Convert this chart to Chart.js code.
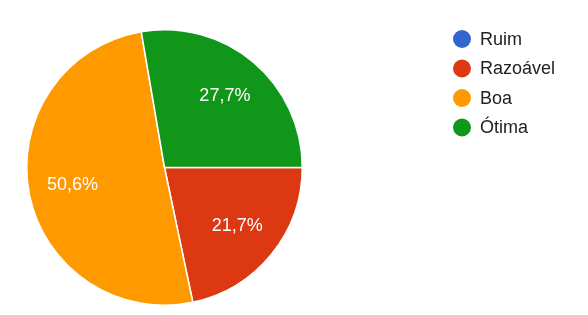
<!DOCTYPE html>
<html>
<head>
<meta charset="utf-8">
<script src="https://cdn.jsdelivr.net/npm/chart.js@4/dist/chart.umd.min.js"></script>
<style>
  html, body { margin: 0; padding: 0; background: #fff; }
  #wrap { width: 588px; height: 315px; position: relative; }
</style>
</head>
<body>
<div id="wrap"><canvas id="chart"></canvas></div>
<script>
const categories = ['Ruim', 'Razoável', 'Boa', 'Ótima'];
const percentages = [0, 21.7, 50.6, 27.7];
const sliceColors = ['#3366cc', '#dc3912', '#ff9900', '#109618'];

const fontFamily = '"Liberation Sans", Arial, sans-serif';

function fmtPct(v) {
  return v.toFixed(1).replace('.', ',') + '%';
}

// white percentage text inside each slice, like Google Forms
const sliceLabels = {
  id: 'sliceLabels',
  afterDatasetsDraw(chart) {
    const ctx = chart.ctx;
    const meta = chart.getDatasetMeta(0);
    ctx.save();
    ctx.font = '18px ' + fontFamily;
    ctx.fillStyle = '#ffffff';
    ctx.textAlign = 'center';
    ctx.textBaseline = 'middle';
    meta.data.forEach((arc, i) => {
      const v = percentages[i];
      if (!v) return;
      const mid = (arc.startAngle + arc.endAngle) / 2;
      const r = arc.outerRadius * 0.68;
      ctx.fillText(fmtPct(v), arc.x + Math.cos(mid) * r, arc.y + Math.sin(mid) * r);
    });
    ctx.restore();
  }
};

// legend on the right with round markers
const sideLegend = {
  id: 'sideLegend',
  afterDraw(chart) {
    const ctx = chart.ctx;
    ctx.save();
    ctx.font = '18px ' + fontFamily;
    ctx.textBaseline = 'middle';
    ctx.textAlign = 'left';
    categories.forEach((name, i) => {
      const y = 39 + i * 29.5;
      ctx.beginPath();
      ctx.arc(462, y, 9, 0, Math.PI * 2);
      ctx.fillStyle = sliceColors[i];
      ctx.fill();
      ctx.fillStyle = '#222222';
      ctx.fillText(name, 480, y + 1);
    });
    ctx.restore();
  }
};

new Chart(document.getElementById('chart'), {
  type: 'pie',
  data: {
    labels: categories,
    datasets: [{
      data: percentages,
      backgroundColor: sliceColors,
      borderColor: '#ffffff',
      borderWidth: 1.5
    }]
  },
  options: {
    responsive: true,
    maintainAspectRatio: false,
    animation: false,
    rotation: 90,
    layout: { padding: { left: 26, top: 29, right: 285, bottom: 9 } },
    plugins: {
      legend: { display: false },
      tooltip: { enabled: false }
    }
  },
  plugins: [sliceLabels, sideLegend]
});
</script>
</body>
</html>
